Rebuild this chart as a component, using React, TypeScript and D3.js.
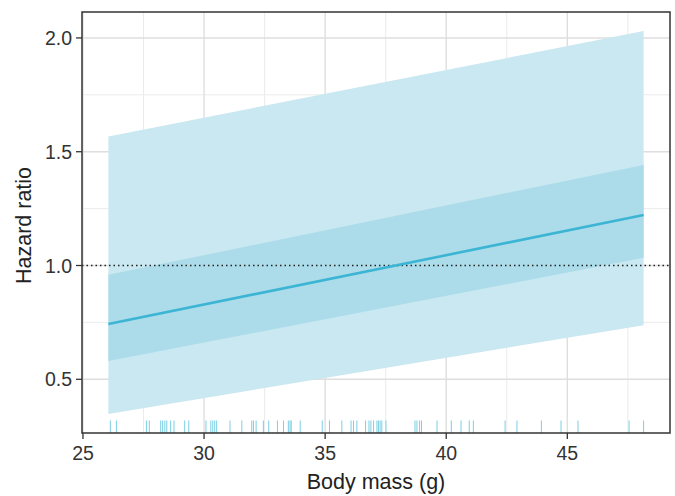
import * as d3 from 'd3';

// ── Layout ────────────────────────────────────────────────────────────────────
const VW = 675;
const VH = 496;
const M  = { top: 12, right: 5, bottom: 63, left: 82 };
const IW = VW - M.left - M.right;
const IH = VH - M.top - M.bottom;

// ── Data ──────────────────────────────────────────────────────────────────────
const MASS      = [26.05, 48.15];
const HR        = [0.743, 1.222];
const CI50_LO   = [0.58, 1.034];
const CI50_HI   = [0.959, 1.442];
const CI95_LO   = [0.348, 0.738];
const CI95_HI   = [1.567, 2.03];

const RUG = [
  26.13, 26.38, 27.62, 27.74, 28.21, 28.29, 28.38, 28.46, 28.62, 28.76,
  29.2, 29.37, 30.08, 30.28, 30.36, 30.44, 30.52, 31.07, 31.56, 31.97,
  32.04, 32.15, 32.45, 32.67, 33.03, 33.28, 33.48, 33.55, 33.6, 33.97,
  34.88, 35.18, 35.69, 36.07, 36.17, 36.31, 36.67, 36.81, 36.89, 37.0,
  37.14, 37.2, 37.27, 37.34, 37.51, 38.71, 38.79, 38.9, 38.98, 39.62,
  40.21, 40.61, 40.95, 41.12, 42.43, 42.92, 43.93, 44.74, 45.44, 47.55,
  48.15,
];

const X_TICKS       = [25, 30, 35, 40, 45];
const X_MINOR       = [27.5, 32.5, 37.5, 42.5, 47.5];
const Y_TICKS       = [0.5, 1.0, 1.5, 2.0];
const Y_MINOR       = [0.75, 1.25, 1.75];

// ── Colors ────────────────────────────────────────────────────────────────────
const OUTER = '#c9e8f1';
const INNER = '#acdcea';
const LINE  = '#3cb5d4';
const RUGC  = '#7ccfe4';
const INK   = '#333333';
const FONT  = 'Liberation Sans, Arial, sans-serif';

export default function App() {
  const x = d3.scaleLinear().domain([24.96, 49.24]).range([0, IW]);
  const y = d3.scaleLinear().domain([0.264, 2.114]).range([IH, 0]);

  const idx = MASS.map((_, i) => i);
  const band = (lo: number[], hi: number[]) =>
    d3.area<number>().x(i => x(MASS[i])).y0(i => y(lo[i])).y1(i => y(hi[i]))(idx) ?? '';
  const line = d3.line<number>().x(i => x(MASS[i])).y(i => y(HR[i]))(idx) ?? '';

  return (
    <svg
      width={VW}
      height={VH}
      viewBox={`0 0 ${VW} ${VH}`}
      style={{ position: 'absolute', left: 0, top: 0, display: 'block', background: '#fff' }}
      fontFamily={FONT}
    >
      <g transform={`translate(${M.left},${M.top})`}>
        {/* minor grid */}
        {X_MINOR.map(v => (
          <line key={`xm${v}`} x1={x(v)} x2={x(v)} y1={0} y2={IH} stroke="#ebebeb" strokeWidth={1} />
        ))}
        {Y_MINOR.map(v => (
          <line key={`ym${v}`} x1={0} x2={IW} y1={y(v)} y2={y(v)} stroke="#ebebeb" strokeWidth={1} />
        ))}
        {/* major grid */}
        {X_TICKS.map(v => (
          <line key={`xg${v}`} x1={x(v)} x2={x(v)} y1={0} y2={IH} stroke="#dedede" strokeWidth={1.4} />
        ))}
        {Y_TICKS.map(v => (
          <line key={`yg${v}`} x1={0} x2={IW} y1={y(v)} y2={y(v)} stroke="#dedede" strokeWidth={1.4} />
        ))}

        {/* confidence bands */}
        <path d={band(CI95_LO, CI95_HI)} fill={OUTER} />
        <path d={band(CI50_LO, CI50_HI)} fill={INNER} />

        {/* reference line */}
        <line
          x1={0} x2={IW} y1={y(1)} y2={y(1)}
          stroke="#222" strokeWidth={1.3} strokeDasharray="1.5,3"
        />

        {/* fitted hazard ratio */}
        <path d={line} fill="none" stroke={LINE} strokeWidth={2.6} />

        {/* rug */}
        {RUG.map((v, i) => (
          <line key={i} x1={x(v)} x2={x(v)} y1={IH - 12.5} y2={IH} stroke={RUGC} strokeWidth={1} />
        ))}

        {/* panel border */}
        <rect x={0} y={0} width={IW} height={IH} fill="none" stroke={INK} strokeWidth={1.5} />

        {/* y axis */}
        {Y_TICKS.map(v => (
          <g key={`yt${v}`}>
            <line x1={-6} x2={0} y1={y(v)} y2={y(v)} stroke={INK} strokeWidth={1.3} />
            <text
              x={-10} y={y(v)} textAnchor="end" dominantBaseline="central"
              fontSize={19.5} fill={INK}
            >
              {v.toFixed(1)}
            </text>
          </g>
        ))}

        {/* x axis */}
        {X_TICKS.map(v => (
          <g key={`xt${v}`}>
            <line x1={x(v)} x2={x(v)} y1={IH} y2={IH + 6} stroke={INK} strokeWidth={1.3} />
            <text
              x={x(v)} y={IH + 27} textAnchor="middle"
              fontSize={19.5} fill={INK}
            >
              {v}
            </text>
          </g>
        ))}

        <text
          x={IW / 2} y={IH + 56} textAnchor="middle"
          fontSize={21.5} fill="#222"
        >
          Body mass (g)
        </text>
        <text
          transform={`translate(${-51},${IH / 2 + 3}) rotate(-90)`}
          textAnchor="middle"
          fontSize={21.5} fill="#222"
        >
          Hazard ratio
        </text>
      </g>
    </svg>
  );
}
